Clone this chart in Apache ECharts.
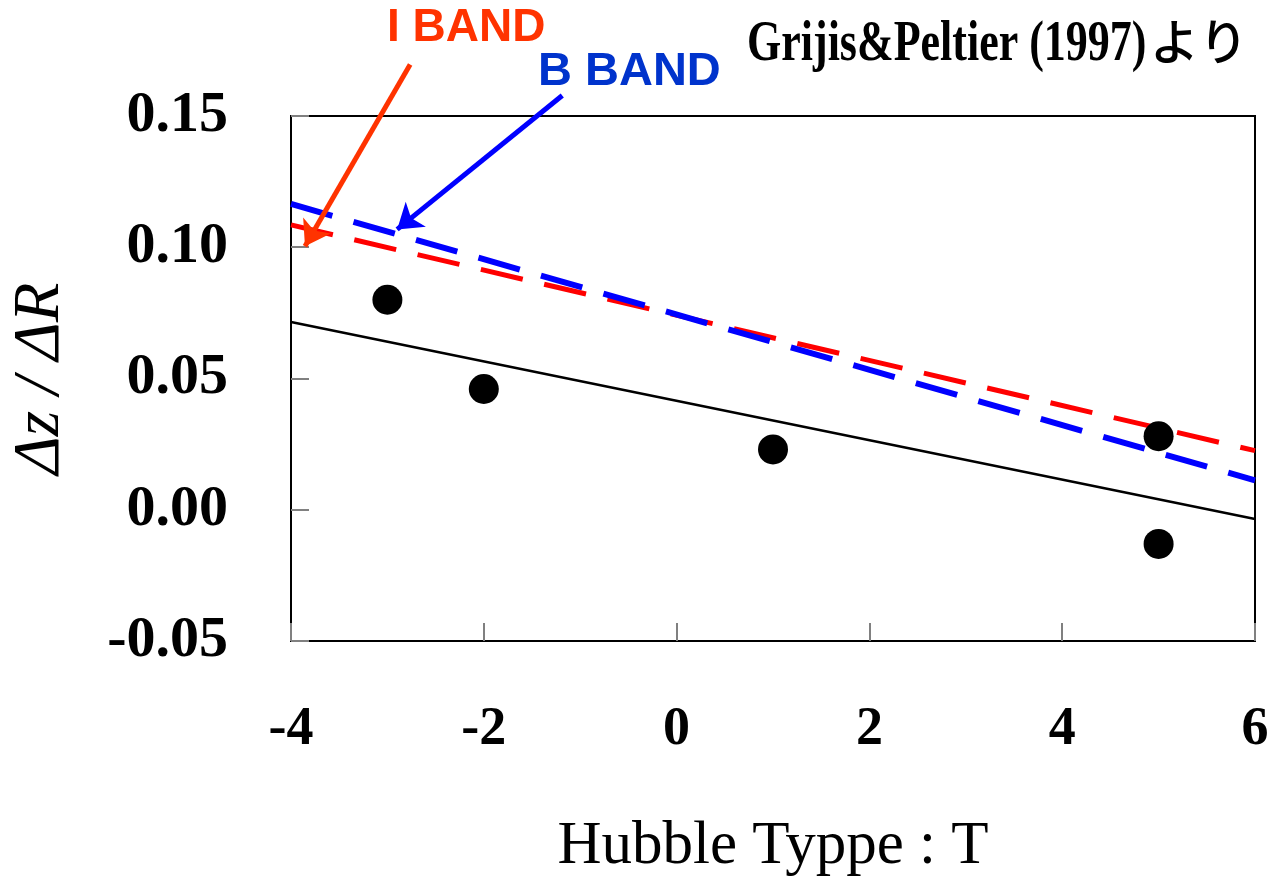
<!DOCTYPE html>
<html>
<head>
<meta charset="utf-8">
<script src="https://cdn.jsdelivr.net/npm/echarts@6/dist/echarts.min.js"></script>
<style>html,body{margin:0;padding:0;background:#fff;}#c{width:1271px;height:876px;}</style>
</head>
<body>
<div id="c"></div>
<script>
// Data
var xTicks = [-4, -2, 0, 2, 4, 6];
var yTicks = [-0.05, 0.00, 0.05, 0.10, 0.15];
var pointsT = [-3, -2, 1, 5, 5];
var pointsDz = [0.080, 0.046, 0.023, 0.028, -0.013];
var fitT = [-4, 6];
var fitDz = [0.0715, -0.0035];
var iBandT = [-4, 6];
var iBandDz = [0.1085, 0.0225];
var bBandT = [-4, 6];
var bBandDz = [0.1165, 0.0112];
// annotation arrows in data coordinates: [startT, startDz, endT, endDz]
var iArrow = [-2.764, 0.1696, -3.855, 0.1004];
var bArrow = [-1.186, 0.1578, -2.899, 0.1068];

function pairs(xs, ys) { return xs.map(function (x, i) { return [x, ys[i]]; }); }

var chart = echarts.init(document.getElementById('c'), null, { renderer: 'canvas' });
var serif = '"Liberation Serif", "Times New Roman", serif';
var sans = '"Liberation Sans", Arial, sans-serif';

chart.setOption({
  backgroundColor: '#fff',
  animation: false,
  grid: { left: 291, right: 16, top: 116, bottom: 235, containLabel: false, outerBoundsMode: 'none',
    show: true, borderColor: '#000', borderWidth: 2, backgroundColor: 'transparent' },
  xAxis: {
    type: 'value', min: xTicks[0], max: xTicks[xTicks.length - 1], interval: 2,
    axisLine: { show: true, onZero: false, lineStyle: { color: '#000', width: 2 } },
    axisTick: { show: true, inside: true, length: 18, lineStyle: { color: '#808080', width: 2 } },
    splitLine: { show: false },
    axisLabel: { margin: 62, fontFamily: serif, fontWeight: 'bold', fontSize: 54, color: '#000' },
    name: 'Hubble Typpe : T', nameLocation: 'middle', nameGap: 175,
    nameTextStyle: { fontFamily: serif, fontSize: 61, color: '#000' }
  },
  yAxis: {
    type: 'value', min: yTicks[0], max: yTicks[yTicks.length - 1], interval: 0.05,
    axisLine: { show: true, onZero: false, lineStyle: { color: '#000', width: 2 } },
    axisTick: { show: true, inside: true, length: 18, lineStyle: { color: '#808080', width: 2 } },
    splitLine: { show: false },
    axisLabel: { margin: 63, fontFamily: serif, fontWeight: 'bold', fontSize: 58, color: '#000',
      formatter: function (v) { return (Math.abs(v) < 1e-9 ? 0 : v).toFixed(2); } },
    name: '\u0394z / \u0394R', nameLocation: 'middle', nameGap: 218, nameRotate: 90,
    nameTextStyle: { fontFamily: serif, fontStyle: 'italic', fontSize: 65, color: '#000' }
  },
  series: [
    { type: 'line', data: pairs(fitT, fitDz), symbol: 'none', lineStyle: { color: '#000', width: 2.5, opacity: 1 }, z: 3 },
    { type: 'line', data: pairs(iBandT, iBandDz), symbol: 'none', lineStyle: { color: '#ff0000', width: 5, type: [43, 22], opacity: 1 }, z: 3 },
    { type: 'line', data: pairs(bBandT, bBandDz), symbol: 'none', lineStyle: { color: '#0000ff', width: 6, type: [43, 22], opacity: 1 }, z: 4 },
    { type: 'scatter', data: pairs(pointsT, pointsDz), symbol: 'circle', symbolSize: 30, itemStyle: { color: '#000', opacity: 1 }, z: 5 },
    { type: 'lines', coordinateSystem: 'cartesian2d', clip: false, z: 6,
      symbol: ['none', 'arrow'], symbolSize: 24,
      data: [
        { coords: [[iArrow[0], iArrow[1]], [iArrow[2], iArrow[3]]], lineStyle: { color: '#ff3300', width: 5, opacity: 1 } },
        { coords: [[bArrow[0], bArrow[1]], [bArrow[2], bArrow[3]]], lineStyle: { color: '#0000ff', width: 5, opacity: 1 } }
      ]
    }
  ],
  graphic: [
    { type: 'text', left: 387, top: 5, style: { text: 'I BAND', fontFamily: sans, fontWeight: 'bold', fontSize: 46, fill: '#ff3300' } },
    { type: 'text', left: 538, top: 49, style: { text: 'B BAND', fontFamily: sans, fontWeight: 'bold', fontSize: 47, fill: '#0033cc' } },
    { type: 'text', x: 747, y: 17, scaleY: 1.3, style: { text: 'Grijis&Peltier (1997)', fontFamily: serif, fontWeight: 'bold', fontSize: 44, fill: '#000', verticalAlign: 'top' } },
    { type: 'text', x: 1150, y: 17, style: { text: '\u3088\u308a', fontFamily: '"Noto Sans CJK JP", sans-serif', fontWeight: 500, fontSize: 49, fill: '#000', verticalAlign: 'top' } }
  ]
});
</script>
</body>
</html>
